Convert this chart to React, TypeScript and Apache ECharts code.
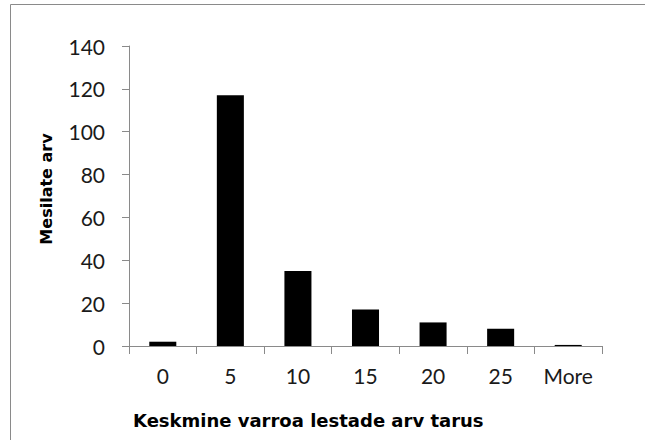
import React, { useEffect, useRef } from "react";
import * as echarts from "echarts";

const categories = ["0", "5", "10", "15", "20", "25", "More"];
const counts = [2, 117, 35, 17, 11, 8, 0.5];
const yTicks = { min: 0, max: 140, interval: 20 };
const xTitle = "Keskmine varroa lestade arv tarus";
const yTitle = "Mesilate arv";

export default function App() {
  const ref = useRef<HTMLDivElement>(null);
  useEffect(() => {
    if (!ref.current) return;
    const chart = echarts.init(ref.current, undefined, { renderer: "svg" });
    const axisColor = "#8a8a8a";
    const labelFont = "Lato";
    chart.setOption({
      animation: false,
      backgroundColor: "#ffffff",
      grid: { left: 129, right: 43, top: 46, bottom: 94, containLabel: false },
      xAxis: {
        type: "category",
        data: categories,
        axisLine: { show: true, lineStyle: { color: axisColor, width: 1 } },
        axisTick: { show: true, length: 8, lineStyle: { color: axisColor } },
        axisLabel: { color: "#1a1a1a", fontFamily: labelFont, fontSize: 21, margin: 19 },
      },
      yAxis: {
        type: "value",
        min: yTicks.min,
        max: yTicks.max,
        interval: yTicks.interval,
        axisLine: { show: true, lineStyle: { color: axisColor, width: 1 } },
        axisTick: { show: true, length: 7, lineStyle: { color: axisColor } },
        splitLine: { show: false },
        axisLabel: { color: "#1a1a1a", fontFamily: labelFont, fontSize: 21, margin: 24 },
      },
      series: [
        {
          type: "bar",
          data: counts,
          barWidth: "40%",
          itemStyle: { color: "#000000" },
        },
      ],
      graphic: [
        {
          type: "rect",
          shape: { x: 10.5, y: 4.5, width: 800, height: 600 },
          style: { fill: "none", stroke: "#8a8a8a", lineWidth: 1 },
          silent: true,
        },
        {
          type: "text",
          x: 133,
          y: 420,
          style: {
            text: xTitle,
            fill: "#000",
            font: "bold 18px 'DejaVu Sans'",
            align: "left",
            verticalAlign: "middle",
          },
        },
        {
          type: "text",
          x: 46,
          y: 189,
          rotation: Math.PI / 2,
          style: {
            text: yTitle,
            fill: "#000",
            font: "bold 16px 'DejaVu Sans'",
            align: "center",
            verticalAlign: "middle",
          },
        },
      ],
    });
    return () => chart.dispose();
  }, []);
  return (
    <div
      ref={ref}
      style={{ position: "fixed", left: 0, top: 0, width: 645, height: 440 }}
    />
  );
}
